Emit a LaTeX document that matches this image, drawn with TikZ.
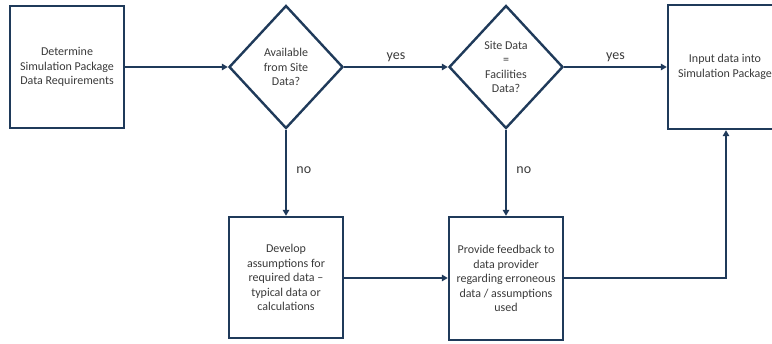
\documentclass[tikz,border=0pt]{standalone}
\usepackage{fontspec}
\setmainfont{Carlito}
\usetikzlibrary{shapes.geometric,arrows.meta}
\definecolor{navy}{HTML}{1F3A5A}
\definecolor{txt}{HTML}{3A3A3A}
\tikzset{
  box/.style={draw=navy,line width=2.4pt,minimum width=114pt,minimum height=122pt,inner sep=0pt,align=center,text=txt,font=\fontsize{12}{14.5}\selectfont,anchor=center},
  dia/.style={draw=navy,line width=2.4pt,diamond,minimum width=114pt,minimum height=123pt,inner sep=0pt,align=center,text=txt,font=\fontsize{12}{14.5}\selectfont},
  arr/.style={draw=navy,line width=2.2pt,-{Triangle[length=6pt,width=6.5pt]}},
  lbl/.style={text=txt,font=\fontsize{14}{16}\selectfont}
}
\begin{document}
\begin{tikzpicture}[x=1pt,y=-1pt]
\useasboundingbox (0,0) rectangle (772,344);
\node[box] (det) at (67,67) {Determine\\Simulation Package\\Data Requirements};
\node[dia] (avail) at (286,67) {Available\\from Site\\Data?};
\node[dia] (site) at (506,67) {Site Data\\=\\Facilities\\Data?};
\node[box,minimum height=124pt] (input) at (725,67) {Input data into\\Simulation Package};
\node[box,minimum height=121pt] (dev) at (286,277.5) {Develop\\assumptions for\\required data --\\typical data or\\calculations};
\node[box,minimum height=123pt] (fb) at (506,278.5) {Provide feedback to\\data provider\\regarding erroneous\\data / assumptions\\used};
\draw[arr] (det.east) -- (avail.west);
\draw[arr] (avail.east) -- node[lbl,above=1pt] {yes} (site.west);
\draw[arr] (site.east) -- node[lbl,above=1pt] {yes} (input.west |- site.east);
\draw[arr] (avail.south) -- node[lbl,right=6pt,pos=0.47] {no} (dev.north);
\draw[arr] (site.south) -- node[lbl,right=6pt,pos=0.47] {no} (fb.north);
\draw[arr] (dev.east |- 0,278) -- (fb.west |- 0,278);
\coordinate (turn) at (726,278);
\draw[arr] (fb.east |- turn) -- (turn) -- (turn |- input.south);
\end{tikzpicture}
\end{document}
